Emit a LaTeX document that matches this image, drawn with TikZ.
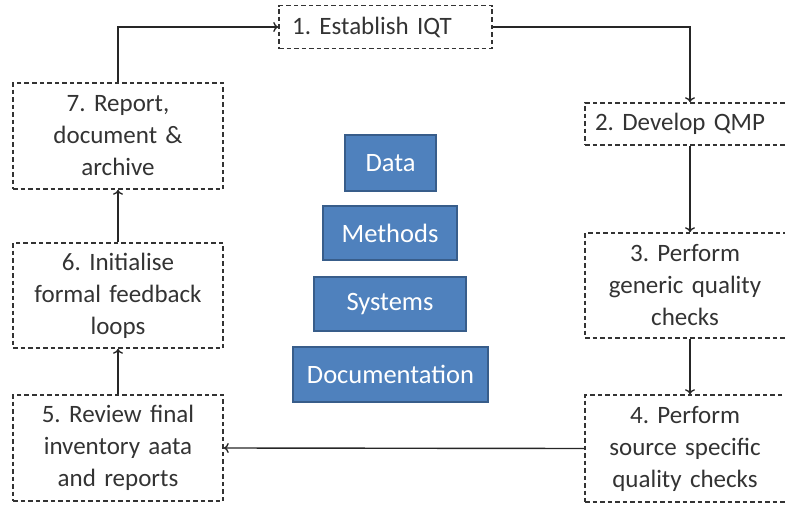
\documentclass[tikz,border=0pt]{standalone}
\usepackage{fontspec}
\usetikzlibrary{arrows.meta}
\setmainfont{Carlito}
\frenchspacing
\definecolor{boxblue}{HTML}{4F81BD}
\definecolor{boxedge}{HTML}{385D8A}
\definecolor{txtgray}{HTML}{333333}
\tikzset{
  stage/.style={draw=black!80, line width=1.6pt, dash pattern=on 4.5pt off 3pt,
    text width=#1, align=center, inner sep=0pt, text=txtgray,
    font=\fontsize{25}{32}\selectfont},
  stage/.default=200pt,
  pillar/.style={draw=boxedge, line width=1.2pt, fill=boxblue, text=white,
    inner sep=0pt, font=\fontsize{26.5}{30}\selectfont},
  flow/.style={->, line width=1.4pt, draw=black!85}
}
\begin{document}
\begin{tikzpicture}[x=1pt,y=-1pt,>={To[length=5pt,width=10pt]}]
  \useasboundingbox (0,0) rectangle (785,506);
  % cycle of stages
  \node[stage, minimum width=213pt, minimum height=43pt] (establish) at (385.5,27) {\hspace*{-27pt}1. Establish IQT};
  \node[stage, minimum width=210pt, minimum height=42pt] (develop) at (690,124) {\hspace*{-10pt}2. Develop QMP\hspace*{10pt}};
  \node[stage, minimum width=210pt, minimum height=105pt] (generic) at (690,285.5) {\hspace*{-10pt}\parbox{180pt}{\centering 3. Perform\\ generic quality\\ checks}};
  \node[stage, minimum width=210pt, minimum height=107pt] (source) at (690,448.5) {\hspace*{-10pt}\parbox{180pt}{\centering 4. Perform\\ source specific\\ quality checks}};
  \node[stage, minimum width=210pt, minimum height=106pt] (review) at (118,448) {5. Review final\\ inventory aata\\ and reports};
  \node[stage, minimum width=210pt, minimum height=105pt] (feedback) at (118,295.5) {6. Initialise\\ formal feedback\\ loops};
  \node[stage, minimum width=210pt, minimum height=106pt] (report) at (118,136) {7. Report,\\ document \&\\ archive};
  % centre stack
  \node[pillar, minimum width=91pt, minimum height=56pt] (data) at (390.5,163) {Data};
  \node[pillar, minimum width=134pt, minimum height=54pt] (methods) at (390,233) {Methods};
  \node[pillar, minimum width=152pt, minimum height=54pt] (systems) at (390,304) {Systems};
  \node[pillar, minimum width=195pt, minimum height=55pt] (docu) at (390.5,374.5) {Documentation};
  % connectors
  \draw[flow] (report.north) |- (establish.west);
  \draw[flow] (establish.east) -| (develop.north);
  \draw[flow] (develop) -- (generic);
  \draw[flow] (generic) -- (source);
  \draw[flow] (source.west) -- (review.east);
  \draw[flow] (review) -- (feedback);
  \draw[flow] (feedback) -- (report);
\end{tikzpicture}
\end{document}
